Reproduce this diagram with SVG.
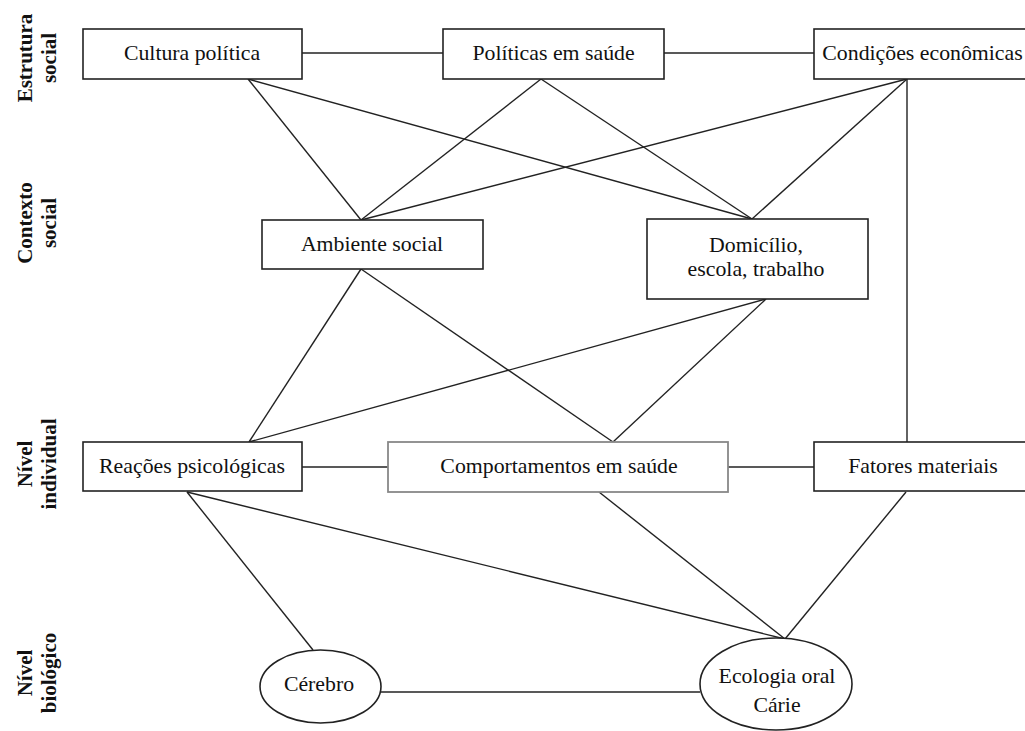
<svg xmlns="http://www.w3.org/2000/svg" width="1025" height="731" viewBox="0 0 1025 731">
<style>
.box{fill:#fff;stroke:#222;stroke-width:1.6}
.gbox{fill:#fff;stroke:#888;stroke-width:1.8}
.t{font-family:"Liberation Serif","Times New Roman",serif;font-size:21.8px;fill:#111;text-anchor:middle}
.side{font-family:"Liberation Serif","Times New Roman",serif;font-size:21px;font-weight:bold;fill:#111;text-anchor:middle}
.c line{stroke:#222;stroke-width:1.4}
</style>
<rect width="1025" height="731" fill="#fff"/>
<g id="levels">
<text class="side" transform="translate(32,58) rotate(-90)">Estrutura</text>
<text class="side" transform="translate(56,58) rotate(-90)">social</text>
<text class="side" transform="translate(32,223) rotate(-90)">Contexto</text>
<text class="side" transform="translate(56,223) rotate(-90)">social</text>
<text class="side" transform="translate(32,464) rotate(-90)">Nível</text>
<text class="side" transform="translate(56,464) rotate(-90)">individual</text>
<text class="side" transform="translate(32,673) rotate(-90)">Nível</text>
<text class="side" transform="translate(56,673) rotate(-90)">biológico</text>
</g>
<g class="c" id="connectors">
<line x1="302" y1="53" x2="443" y2="53"/>
<line x1="664" y1="53" x2="814" y2="53"/>
<line x1="248" y1="79" x2="361" y2="220"/>
<line x1="248" y1="79" x2="752" y2="219"/>
<line x1="541" y1="79" x2="361" y2="220"/>
<line x1="541" y1="79" x2="752" y2="219"/>
<line x1="907" y1="79" x2="361" y2="220"/>
<line x1="907" y1="79" x2="752" y2="219"/>
<line x1="907" y1="79" x2="907" y2="442"/>
<line x1="361" y1="269" x2="249" y2="442"/>
<line x1="361" y1="269" x2="613" y2="442"/>
<line x1="766" y1="299" x2="249" y2="442"/>
<line x1="766" y1="299" x2="613" y2="442"/>
<line x1="302" y1="467" x2="388" y2="467"/>
<line x1="728" y1="467" x2="814" y2="467"/>
<line x1="187" y1="492" x2="313" y2="650"/>
<line x1="187" y1="492" x2="785" y2="639"/>
<line x1="599" y1="492" x2="785" y2="639"/>
<line x1="906" y1="492" x2="785" y2="639"/>
<line x1="381" y1="692" x2="700" y2="692"/>
</g>
<g id="cultura">
<rect class="box" x="83" y="29" width="219" height="50"/>
<text class="t" x="192" y="60">Cultura política</text>
</g>
<g id="politicas">
<rect class="box" x="443" y="29" width="221" height="50"/>
<text class="t" x="553.5" y="60">Políticas em saúde</text>
</g>
<g id="condicoes">
<rect class="box" x="814" y="29" width="220" height="50"/>
<text class="t" x="922.5" y="60">Condições econômicas</text>
</g>
<g id="ambiente">
<rect class="box" x="262" y="220" width="221" height="49"/>
<text class="t" x="372" y="251">Ambiente social</text>
</g>
<g id="domicilio">
<rect class="box" x="647" y="219" width="221" height="80"/>
<text class="t" x="756" y="252">Domicílio,</text>
<text class="t" x="756" y="276">escola, trabalho</text>
</g>
<g id="reacoes">
<rect class="box" x="83" y="442" width="219" height="49"/>
<text class="t" x="192" y="473">Reações psicológicas</text>
</g>
<g id="comportamentos">
<rect class="gbox" x="388" y="442" width="340" height="50"/>
<text class="t" x="559" y="473">Comportamentos em saúde</text>
</g>
<g id="fatores">
<rect class="box" x="814" y="442" width="220" height="49"/>
<text class="t" x="923" y="473">Fatores materiais</text>
</g>
<g id="cerebro">
<ellipse class="box" cx="320.5" cy="686.5" rx="60.5" ry="36.5"/>
<text class="t" x="319" y="691">Cérebro</text>
</g>
<g id="ecologia">
<ellipse class="box" cx="776" cy="684" rx="76" ry="46"/>
<text class="t" x="777" y="683">Ecologia oral</text>
<text class="t" x="777" y="712">Cárie</text>
</g>
</svg>
